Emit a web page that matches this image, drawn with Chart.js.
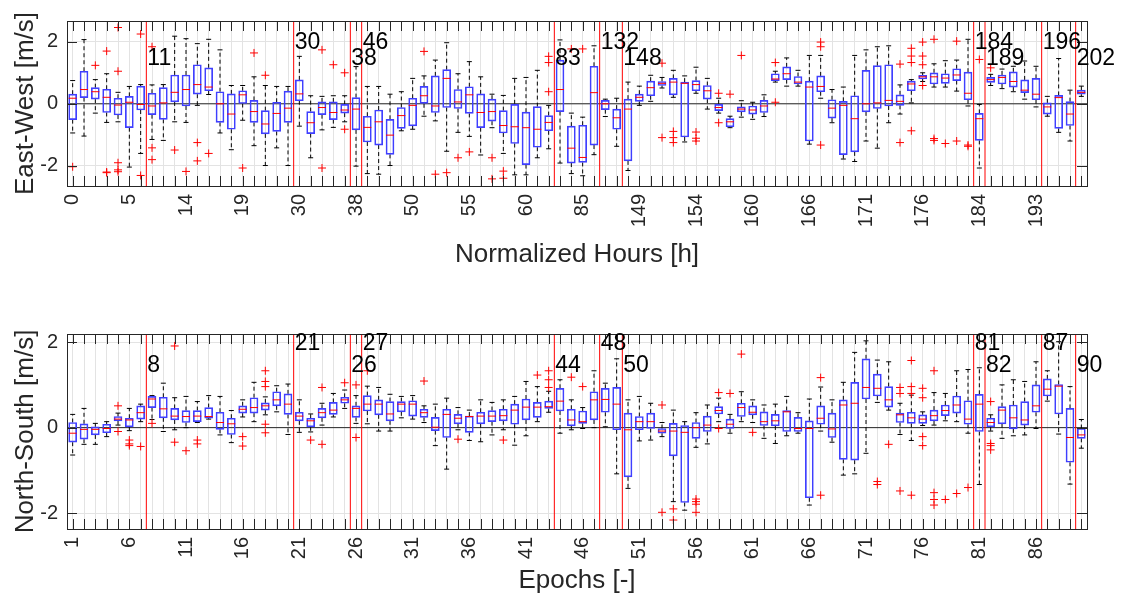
<!DOCTYPE html>
<html><head><meta charset="utf-8">
<script src="https://cdn.jsdelivr.net/npm/chart.js@4.4.1/dist/chart.umd.min.js"></script>
<style>
html,body{margin:0;padding:0;background:#fff;}
#wrap{position:relative;width:1121px;height:598px;background:#fff;}
.pane{position:absolute;left:0;width:1121px;height:299px;}
</style></head><body>
<div id="wrap">
<div class="pane" style="top:0"><canvas id="c1" width="1121" height="299"></canvas></div>
<div class="pane" style="top:299px"><canvas id="c2" width="1121" height="299"></canvas></div>
</div>
<script>
// ---------- categories ----------
const epochs = [1,2,3,4,5,6,7,8,9,10,11,12,13,14,15,16,17,18,19,20,21,22,23,24,25,26,27,28,29,30,
31,32,33,34,35,36,37,38,39,40,41,42,43,44,45,46,47,48,49,50,51,52,53,54,55,56,57,58,59,60,
61,62,63,64,65,66,67,68,69,70,71,72,73,74,75,76,77,78,79,80,81,82,83,84,85,86,87,88,89,90];
const tickPositions = [1,6,11,16,21,26,31,36,41,46,51,56,61,66,71,76,81,86];
const hourTickLabels = ['0','5','14','19','30','38','50','55','60','85','149','154','160','166','171','176','184','193'];
const epochTickLabels = ['1','6','11','16','21','26','31','36','41','46','51','56','61','66','71','76','81','86'];
const eventEpochs = [8,21,26,27,44,48,50,81,82,87,90];
const eventHours = ['11','30','38','46','83','132','148','184','189','196','202'];

// ---------- East-West boxplot statistics ----------
const ewLo = [-0.94,-1.04,-0.3,-0.6,-0.58,-2.04,-1.6,-1.15,-1.18,-0.58,
-0.6,-0.05,0.3,-0.94,-1.48,-0.53,-1.35,-1.99,-1.42,-1.99,
-0.72,-1.74,-0.84,-0.76,-0.58,-2.01,-2.25,-2.27,-1.99,-0.87,
-0.82,-0.4,-0.55,-1.53,-0.92,-1.05,-1.65,-0.77,-1.6,-2.29,
-2.29,-1.74,-1.45,-1.91,-2.25,-2.32,-1.64,-0.41,-1.37,-2.15,
-0.05,0.08,0.51,0.21,-1.23,0.34,-0.17,-0.3,-0.77,-0.43,
-0.5,-0.41,0.7,0.57,0.57,-1.3,0.18,-0.61,-1.78,-1.86,
-1.2,-1.43,-0.61,-0.33,0.03,0.72,0.54,0.54,0.41,-0.07,
-2.07,0.59,0.49,0.39,0.15,-0.1,-0.4,-0.92,-1.2,0.24];
const ewQ1 = [-0.51,0.2,0.15,-0.28,-0.36,-0.77,-0.2,-0.35,-0.5,0.06,
-0.07,0.31,0.42,-0.6,-0.82,0.01,-0.6,-0.97,-0.89,-0.6,
0.1,-0.96,-0.35,-0.51,-0.3,-0.84,-1.23,-1.33,-1.63,-0.79,
-0.71,0,-0.28,-0.12,-0.15,-0.31,-0.77,-0.56,-0.94,-1.28,
-1.96,-1.4,-0.87,-0.25,-1.91,-1.89,-1.33,-0.19,-0.82,-1.84,
0.08,0.26,0.59,0.29,-1.07,0.42,0.15,-0.22,-0.74,-0.26,
-0.33,-0.28,0.75,0.78,0.64,-1.2,0.39,-0.46,-1.64,-1.55,
-0.26,-0.15,-0.07,-0.05,0.42,0.8,0.64,0.66,0.75,0.13,
-1.18,0.69,0.64,0.54,0.36,0.13,-0.33,-0.79,-0.7,0.31];
const ewMed = [0.18,0.46,0.39,0.21,-0.04,0.05,-0.02,-0.07,0.03,0.37,
0.46,0.62,0.54,0,-0.33,0.29,-0.25,-0.65,-0.31,-0.14,
0.32,-0.61,-0.12,-0.28,-0.2,-0.17,-0.76,-0.58,-1.01,-0.38,
-0.05,0.26,-0.07,0.82,0.06,0.29,-0.28,-0.25,-0.7,-0.74,
-0.77,-0.82,-0.6,0.46,-1.43,-1.73,0.36,0,-0.45,-0.17,
0.21,0.52,0.66,0.7,0.66,0.62,0.42,-0.12,-0.58,-0.17,
-0.2,-0.07,0.8,0.97,0.7,0.54,0.56,-0.14,-0.05,-0.48,
0,0.03,0.11,0.08,0.64,0.87,0.87,0.83,0.93,0.34,
-0.48,0.78,0.85,0.72,0.44,0.31,-0.1,0.2,-0.33,0.37];
const ewQ3 = [0.31,1.05,0.52,0.47,0.18,0.24,0.57,0.34,0.52,0.93,
0.93,1.26,1.16,0.39,0.32,0.42,0.11,-0.22,0.05,0.41,
0.77,-0.25,0.06,0.06,-0.02,0.2,-0.4,-0.2,-0.5,-0.12,
0.18,0.56,0.9,1.1,0.46,0.55,0.32,0.15,-0.22,0,
-0.27,-0.09,-0.38,1.41,-0.72,-0.69,1.21,0.11,-0.17,0.15,
0.31,0.73,0.72,0.82,0.7,0.75,0.59,0,-0.48,-0.1,
-0.07,0.11,0.97,1.19,0.88,0.73,0.9,0.13,0.08,0.26,
1.08,1.23,1.26,0.29,0.73,0.92,1.0,0.97,1.13,1.02,
-0.31,0.85,0.93,1.03,0.77,0.82,0.03,0.27,0.07,0.44];
const ewHi = [0.75,2.07,0.78,0.97,0.37,0.56,0.62,0.61,0.62,2.18,
2.1,1.94,2.08,1.74,0.59,0.59,0.87,0.59,0.56,0.56,
1.53,0.26,0.24,0.26,0.26,1.2,0.56,0.56,0.31,0.39,
0.82,0.9,1.41,1.97,0.97,1.36,0.87,0.31,0.27,0.82,
0.85,1.08,-0.05,2.06,-0.3,-0.43,1.87,0.15,0.18,0.7,
0.57,0.92,0.85,1.08,0.9,1.18,0.82,0.18,-0.4,0.1,
0.05,0.29,1.05,1.48,1.08,1.56,1.56,0.46,0.54,1.56,
1.74,1.84,1.87,0.61,0.78,1.0,1.29,1.39,1.41,2.08,
-0.02,0.95,1.12,1.21,1.38,1.21,0.24,1.46,0.44,0.57];
const ewOut = [[-2.03],[],[1.24],[1.7,-2.2,-2.22],[2.46,1.05,-1.9,-2.13,-2.19],[],[2.25,-2.31],[1.84,-1.42,-1.8],[],[-1.49],
[-2.18],[-1.25,-1.84],[-1.6],[],[],[-2.07],[1.64],[0.92],[],[],
[],[],[1.74,-2.07],[1.26],[1.0,-0.82],[],[],[],[],[],
[],[1.69],[-2.27],[-2.22],[-1.74],[-1.55],[],[-1.74,-2.42],[-2.17,-2.4],[],
[],[],[1.53,1.33,0.39],[],[1.77],[1.77],[],[],[],[],
[],[],[1.31,-1.09],[-0.89,-1.09,-1.25],[],[-0.91,-1.11,-1.2],[],[0.34,-0.61],[0.31],[1.56],
[],[],[1.33,0.05],[],[],[],[1.99,1.84,-1.33],[],[],[],
[],[],[],[1.28,-1.25],[1.79,1.54,1.33,-0.87],[1.99,1.54,1.26,0.59],[2.08,-1.12,-1.18],[-1.28],[2.02,-1.2],[-1.33,-1.37],
[1.43],[1.16],[],[],[],[],[],[],[],[]];

// ---------- North-South boxplot statistics ----------
const nsLo = [-0.64,-0.39,-0.39,-0.21,0.06,-0.07,0.14,0.19,-0.09,-0.05,
0.0,0.12,0.2,-0.17,-0.35,0.25,0.14,0.3,0.37,-0.16,
-0.11,-0.1,0.06,0.25,0.45,0.1,0.09,-0.08,-0.08,0.23,
0.2,0.12,-0.42,-0.97,-0.05,-0.3,-0.33,-0.17,-0.05,-0.41,
-0.19,0.14,0.36,-0.13,-0.05,-0.02,0.0,0.02,-1.08,-1.42,
-0.31,-0.29,-0.21,-1.73,-1.93,-0.46,-0.38,0.14,-0.13,0.14,
0.12,-0.25,-0.37,-0.19,-0.13,-1.81,-0.08,-0.34,-1.11,-1.08,
-0.6,0.59,0.41,-0.16,-0.3,0.05,0.06,0.16,0.14,-0.13,
-1.33,-0.08,-0.25,-0.19,-0.17,-0.02,0.62,-0.15,-1.32,-0.48];
const nsQ1 = [-0.34,-0.27,-0.17,-0.12,0.16,0.02,0.2,0.47,0.23,0.18,
0.12,0.14,0.22,-0.04,-0.16,0.34,0.34,0.41,0.51,0.31,
0.16,0.02,0.23,0.31,0.57,0.24,0.39,0.3,0.16,0.37,
0.27,0.24,-0.07,-0.23,0.09,-0.11,0.09,0.14,0.16,0.08,
0.18,0.24,0.45,0.39,0.04,0.1,0.18,0.36,-0.05,-1.15,
-0.05,-0.02,-0.13,-0.66,-1.75,-0.25,-0.09,0.32,-0.02,0.26,
0.3,0.05,0.04,-0.09,-0.09,-1.64,0.08,-0.23,-0.74,-0.76,
0.67,0.74,0.48,0.12,0.1,0.1,0.16,0.28,0.34,0.08,
-0.09,0.02,0.09,-0.03,0.06,0.36,0.74,0.32,-0.81,-0.25];
const nsMed = [-0.13,-0.04,-0.04,-0.02,0.2,0.18,0.35,0.67,0.44,0.27,
0.26,0.27,0.26,0.12,0.09,0.43,0.47,0.51,0.65,0.55,
0.27,0.16,0.35,0.41,0.65,0.45,0.55,0.55,0.32,0.55,
0.55,0.35,0.01,0.31,0.22,0.26,0.27,0.27,0.28,0.41,
0.48,0.48,0.49,0.62,0.18,0.14,0.65,0.66,0.55,-0.05,
0.14,0.14,-0.08,-0.08,-0.11,0.0,0.06,0.4,0.08,0.47,
0.36,0.14,0.16,0.37,-0.02,-0.02,0.22,-0.03,0.53,0.57,
0.94,0.92,0.65,0.3,0.23,0.2,0.28,0.4,0.53,0.2,
0.55,0.12,0.41,0.23,0.18,0.51,0.9,0.97,-0.23,-0.17];
const nsQ3 = [0.12,0.09,0.02,0.08,0.26,0.22,0.51,0.73,0.71,0.45,
0.4,0.4,0.47,0.36,0.22,0.51,0.7,0.58,0.84,0.79,
0.36,0.22,0.45,0.59,0.71,0.51,0.75,0.65,0.61,0.61,
0.63,0.43,0.24,0.43,0.31,0.27,0.36,0.4,0.43,0.55,
0.67,0.59,0.62,0.92,0.43,0.39,0.84,0.92,0.94,0.34,
0.26,0.34,-0.02,0.1,0.05,0.12,0.27,0.49,0.2,0.57,
0.51,0.37,0.31,0.4,0.24,0.16,0.51,0.34,0.65,1.06,
1.61,1.25,0.96,0.34,0.36,0.3,0.41,0.53,0.74,0.63,
0.78,0.22,0.49,0.53,0.61,1.0,1.14,1.01,0.45,-0.02];
const nsHi = [0.31,0.45,0.1,0.14,0.34,0.45,0.55,0.75,1.04,0.7,
0.73,0.61,0.75,0.73,0.4,0.65,1.06,0.72,0.98,1.02,
0.65,0.32,0.57,0.8,0.88,0.75,0.97,0.94,0.78,0.73,
0.75,0.51,0.55,0.69,0.47,0.41,0.65,0.59,0.65,0.73,
1.08,0.96,0.85,1.12,0.65,0.47,1.33,1.04,1.61,0.65,
0.73,0.57,0.12,0.41,0.14,0.35,0.53,0.69,0.31,0.84,
0.65,0.53,0.55,0.73,0.35,0.67,0.95,0.65,1.06,1.76,
2.03,1.58,1.54,0.57,0.76,0.37,0.82,0.8,1.33,1.36,
1.4,0.3,1.0,1.12,1.08,1.54,1.33,2.01,0.96,0.19];
const nsOut = [[],[],[],[],[0.51,-0.09],[-0.29,-0.38,-0.42],[-0.44],[0.1],[],[1.91,-0.34],
[-0.54],[-0.29,-0.38],[],[],[],[-0.21,-0.43],[],[1.33,1.08,0.96,0.08,-0.12],[],[],
[],[-0.29],[0.94,-0.39],[],[1.05],[1.0,-0.23],[1.33],[],[],[],
[],[1.09],[],[],[-0.27],[],[],[],[-0.29],[],
[],[1.23],[1.33,1.12,0.94],[],[1.18],[0.96],[],[],[],[],
[],[],[0.53,-1.98],[-1.9,-2.16],[],[-1.67,-1.73,-1.79,-1.98],[],[0.82,-0.02],[0.8],[1.72],
[-0.11],[],[],[],[],[],[1.17,-1.58],[],[],[],
[],[-1.26,-1.33],[-0.39],[0.94,0.8,-1.48],[1.57,0.96,0.8,-1.58],[0.92,0.7,-0.21,-0.42],[1.33,-1.52,-1.68,-1.81],[-1.68],[-1.54],[-1.4],
[],[0.61,-0.37,-0.42,-0.52],[],[],[],[],[],[],[],[]];

// ---------- rendering ----------
const FONT = "'Liberation Sans', Arial, Helvetica, sans-serif";
const AXC = '#262626';
const al = v => Math.round(v) + 0.5;

const matlabAxes = {
  id: 'matlabAxes',
  afterDatasetsDraw(chart, args, o) {
    const {ctx, chartArea: a, scales: {x, y}} = chart;
    ctx.save();
    ctx.strokeStyle = '#ff0000'; ctx.lineWidth = 1;
    o.events.forEach(e => {
      const px = x.getPixelForValue(e - 0.5);
      ctx.beginPath(); ctx.moveTo(px, a.top); ctx.lineTo(px, a.bottom); ctx.stroke();
    });
    ctx.strokeStyle = AXC; ctx.lineWidth = 1;
    ctx.strokeRect(al(a.left), al(a.top), Math.round(a.right) - Math.round(a.left), Math.round(a.bottom) - Math.round(a.top));
    ctx.beginPath();
    x.ticks.forEach(t => {
      const px = al(x.getPixelForValue(t.value));
      ctx.moveTo(px, a.bottom); ctx.lineTo(px, a.bottom - 10);
      ctx.moveTo(px, a.top); ctx.lineTo(px, a.top + 10);
    });
    y.ticks.forEach(t => {
      const py = al(y.getPixelForValue(t.value));
      ctx.moveTo(a.left, py); ctx.lineTo(a.left + 10, py);
      ctx.moveTo(a.right, py); ctx.lineTo(a.right - 10, py);
    });
    ctx.stroke();
    ctx.fillStyle = '#000'; ctx.font = '23px ' + FONT;
    ctx.textAlign = 'left'; ctx.textBaseline = 'middle';
    o.labels.forEach((t, i) => {
      const px = x.getPixelForValue(o.events[i] - 0.5);
      const py = y.getPixelForValue(i % 2 === 0 ? o.lowY : o.highY);
      ctx.fillText(t, px + 1, py);
    });
    ctx.restore();
  }
};

function makePanel(canvasId, st, cfg) {
  const boxes = epochs.map((p, i) => ({x: p, y: [st.q1[i], st.q3[i]]}));
  const meds = epochs.map((p, i) => ({x: p, y: st.med[i]}));
  const whisk = [];
  const caps = [];
  const outs = [];
  epochs.forEach((p, i) => {
    whisk.push({x: p, y: st.q3[i]}, {x: p, y: st.hi[i]}, {x: p, y: null},
               {x: p, y: st.q1[i]}, {x: p, y: st.lo[i]}, {x: p, y: null});
    caps.push({x: p, y: st.hi[i]}, {x: p, y: st.lo[i]});
    st.out[i].forEach(v => outs.push({x: p, y: v}));
  });
  const H = 299;
  return new Chart(document.getElementById(canvasId), {
    type: 'bar',
    data: {
      datasets: [
        {type: 'line', data: [{x: 0.5, y: 0}, {x: 90.5, y: 0}], borderColor: AXC, borderWidth: 1,
         pointRadius: 0, order: 6},
        {type: 'line', data: whisk, borderColor: '#000', borderWidth: 1, borderDash: [4, 3],
         pointRadius: 0, spanGaps: false, tension: 0, fill: false, order: 5},
        {type: 'bar', data: boxes, backgroundColor: 'rgba(0,0,0,0)', borderColor: '#3f3fff',
         borderWidth: 1, borderSkipped: false, barThickness: 8, order: 3},
        {type: 'scatter', data: caps, pointStyle: 'line', pointRadius: 2.5, pointBorderColor: '#000',
         pointBorderWidth: 1, pointBackgroundColor: '#000', order: 4},
        {type: 'scatter', data: meds, pointStyle: 'line', pointRadius: 4, pointBorderColor: '#ff0000',
         pointBorderWidth: 1, pointBackgroundColor: '#ff0000', order: 1},
        {type: 'scatter', data: outs, pointStyle: 'cross', pointRadius: 4, pointBorderColor: '#ff0000',
         pointBorderWidth: 1, pointBackgroundColor: '#ff0000', order: 0}
      ]
    },
    options: {
      responsive: false, animation: false, events: [],
      layout: {padding: {left: 0, right: 34, top: cfg.top, bottom: 0}},
      plugins: {legend: {display: false}, tooltip: {enabled: false},
        matlabAxes: {events: eventEpochs, labels: cfg.eventLabels, lowY: cfg.lowY, highY: cfg.highY}},
      scales: {
        x: {
          type: 'linear', position: 'bottom', min: 0.5, max: 90.5, offset: false,
          grid: {color: '#e3e3e3', lineWidth: 1, drawTicks: false, offset: false},
          border: {display: false},
          afterBuildTicks: s => { s.ticks = epochs.map(v => ({value: v})); },
          afterFit: s => { s.height = H - cfg.bottom; },
          ticks: {
            autoSkip: false, minRotation: 90, maxRotation: 90, padding: 8, color: AXC,
            font: {family: FONT, size: 20},
            callback: v => { const k = tickPositions.indexOf(v); return k >= 0 ? cfg.tickLabels[k] : ''; }
          },
          title: {display: true, text: cfg.xTitle, color: AXC, font: {family: FONT, size: 26},
                  padding: {top: 0, bottom: cfg.titlePad}}
        },
        y: {
          type: 'linear', position: 'left', min: cfg.yMin, max: cfg.yMax,
          grid: {color: '#e3e3e3', lineWidth: 1, drawTicks: false},
          border: {display: false},
          afterBuildTicks: s => { s.ticks = [-2, 0, 2].map(v => ({value: v})); },
          afterFit: s => { s.width = 67; },
          ticks: {padding: 9, color: AXC, font: {family: FONT, size: 20}},
          title: {display: true, text: cfg.yTitle, color: AXC, font: {family: FONT, size: 26},
                  padding: {top: 10, bottom: 0}}
        }
      }
    },
    plugins: [matlabAxes]
  });
}

makePanel('c1', {lo: ewLo, q1: ewQ1, med: ewMed, q3: ewQ3, hi: ewHi, out: ewOut}, {
  top: 12, bottom: 186, yMin: -2.65, yMax: 2.67, tickLabels: hourTickLabels,
  xTitle: 'Normalized Hours [h]', yTitle: 'East-West [m/s]', titlePad: 29,
  eventLabels: eventHours, lowY: 1.47, highY: 1.98
});
makePanel('c2', {lo: nsLo, q1: nsQ1, med: nsMed, q3: nsQ3, hi: nsHi, out: nsOut}, {
  top: 35, bottom: 230, yMin: -2.37, yMax: 2.19, tickLabels: epochTickLabels,
  xTitle: 'Epochs [-]', yTitle: 'North-South [m/s]', titlePad: 2,
  eventLabels: eventEpochs.map(String), lowY: 1.45, highY: 1.97
});
</script>
</body></html>
